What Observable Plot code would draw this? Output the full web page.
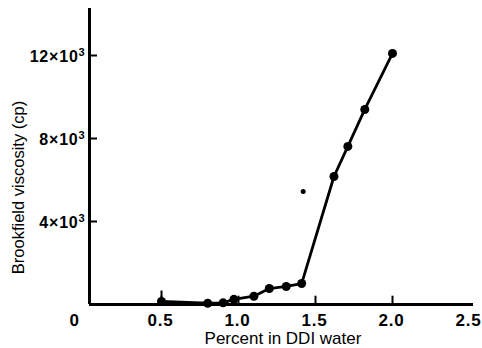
<!DOCTYPE html>
<html><head><meta charset="utf-8">
<script src="https://cdn.jsdelivr.net/npm/d3@7"></script>
<script src="https://cdn.jsdelivr.net/npm/@observablehq/plot@0.6"></script>
<style>
body{margin:0;background:#fff;}
svg{font-family:"Liberation Sans",Arial,sans-serif;}
</style></head>
<body><div id="chart"></div>
<script>
const percent = [0.5, 0.8, 0.9, 0.97, 1.1, 1.2, 1.31, 1.41, 1.62, 1.71, 1.82, 2.0];
const viscosity = [150, 60, 80, 250, 400, 770, 870, 1010, 6170, 7620, 9400, 12100];
const strayX = [1.42];
const strayY = [5450];
const errX = [0.5];
const errHi = [650];
const xTicks = [0, 0.5, 1.0, 1.5, 2.0, 2.5];
const xTickLabels = ["0", "0.5", "1.0", "1.5", "2.0", "2.5"];
const yTicks = [4000, 8000, 12000];
const yTickLabels = ["4×10³", "8×10³", "12×10³"];

const data = percent.map((p, i) => ({p, v: viscosity[i]}));
const stray = strayX.map((p, i) => ({p, v: strayY[i]}));
const err = errX.map((p, i) => ({p, v: errHi[i]}));

const chart = Plot.plot({
  width: 482, height: 348,
  marginLeft: 84, marginRight: 13, marginTop: 8, marginBottom: 44,
  x: {domain: [0, 2.5]},
  y: {domain: [0, 14265]},
  marks: [
    Plot.axisY({ticks: yTicks, tickSize: 8, dx: 13, tickFormat: () => "", strokeWidth: 2, label: null}),
    Plot.axisY({ticks: yTicks, tickSize: 0, tickPadding: -1, tickFormat: (d) => yTickLabels[yTicks.indexOf(d)],
      fontSize: 16, fontWeight: "bold", label: null, dy: 1}),
    Plot.ruleX(xTicks.slice(1, 5), {y1: 0, y2: 400, strokeWidth: 2}),
    Plot.axisX({ticks: xTicks.slice(1), tickSize: 0, tickPadding: 9, tickFormat: (d) => xTickLabels[xTicks.indexOf(d)],
      fontSize: 17, fontWeight: "bold", label: null, dx: -1}),
    Plot.axisX({ticks: [0], tickSize: 0, tickPadding: 9, tickFormat: () => xTickLabels[0],
      fontSize: 17, fontWeight: "bold", label: null, dx: -10}),
    Plot.ruleX([0], {dx: 5, strokeWidth: 3}),
    Plot.ruleY([0], {insetLeft: 5, insetRight: -4, strokeWidth: 3}),
    Plot.ruleX(err, {x: "p", y1: 0, y2: "v", strokeWidth: 2}),
    Plot.line(data, {x: "p", y: "v", stroke: "black", strokeWidth: 2.8}),
    Plot.dot(data, {x: "p", y: "v", r: 4.5, fill: "black"}),
    Plot.dot(stray, {x: "p", y: "v", r: 2.5, fill: "black"}),
    Plot.text(["Percent in DDI water"], {frameAnchor: "bottom", lineAnchor: "middle", dy: 34, dx: 6, fontSize: 17}),
    Plot.text(["Brookfield viscosity (cp)"], {frameAnchor: "left", textAnchor: "middle", dx: -66, dy: 31, rotate: -90, fontSize: 16.5})
  ]
});
chart.querySelectorAll("text, tspan").forEach(el => {
  if (el.children.length === 0 && el.textContent.includes("³")) {
    const base = el.textContent.replace("³", "");
    el.textContent = base;
    const sup = document.createElementNS("http://www.w3.org/2000/svg", "tspan");
    sup.setAttribute("font-size", "11");
    sup.setAttribute("dy", "-6");
    sup.textContent = "3";
    el.appendChild(sup);
  }
});
chart.querySelectorAll("g[font-weight='bold'] text").forEach(t => t.setAttribute("letter-spacing", "0.8"));
document.getElementById("chart").appendChild(chart);
</script></body></html>
